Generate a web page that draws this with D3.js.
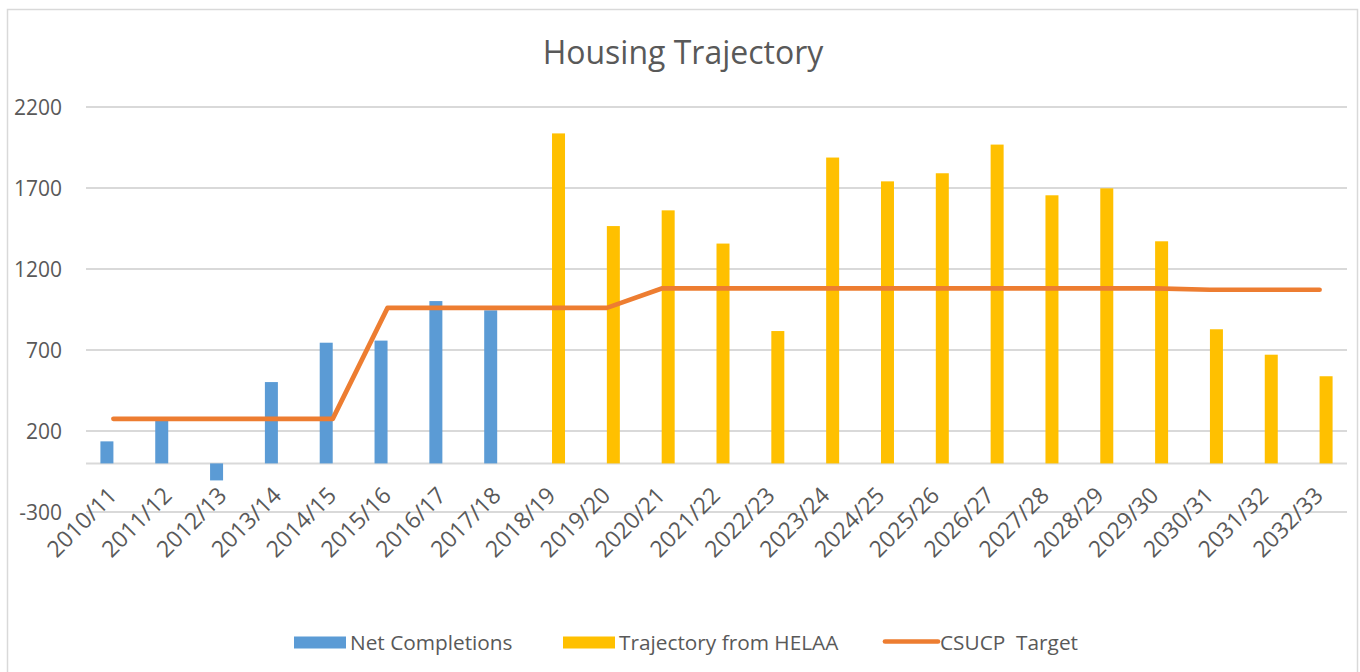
<!DOCTYPE html>
<html>
<head>
<meta charset="utf-8">
<script src="https://cdn.jsdelivr.net/npm/d3@7"></script>
<style>
  html, body { margin: 0; padding: 0; background: #fff; }
  svg { display: block; font-family: "Open Sans", sans-serif; }
</style>
</head>
<body>
<svg id="chart"></svg>
<script>
//--------------------------------------------
// DATA
//--------------------------------------------
const years = [
  "2010/11", "2011/12", "2012/13", "2013/14", "2014/15", "2015/16", "2016/17", "2017/18",
  "2018/19", "2019/20", "2020/21", "2021/22", "2022/23", "2023/24", "2024/25", "2025/26",
  "2026/27", "2027/28", "2028/29", "2029/30", "2030/31", "2031/32", "2032/33"
];
// null = no bar for that year
const netCompletions = [136, 265, -105, 502, 745, 758, 1002, 945,
  null, null, null, null, null, null, null, null, null, null, null, null, null, null, null];
const helaaTrajectory = [null, null, null, null, null, null, null, null,
  2037, 1465, 1562, 1357, 817, 1888, 1741, 1791, 1968, 1655, 1698, 1371, 828, 671, 538];
const csucpTarget = [275, 275, 275, 275, 275, 960, 960, 960, 960, 960,
  1080, 1080, 1080, 1080, 1080, 1080, 1080, 1080, 1080, 1080, 1072, 1072, 1072];
const yTicks = [-300, 200, 700, 1200, 1700, 2200];

const seriesNames = ["Net Completions", "Trajectory from HELAA", "CSUCP  Target"];

//--------------------------------------------
// CONFIG
//--------------------------------------------
const width = 1360, height = 672;
const textColor = "#595959", gridColor = "#d9d9d9";
const blue = "#5b9bd5", yellow = "#ffc000", orange = "#ed7d31";

const svg = d3.select("#chart")
  .attr("width", width)
  .attr("height", height)
  .attr("viewBox", [0, 0, width, height]);

// chart border
svg.append("rect")
  .attr("x", 7.5).attr("y", 9.5)
  .attr("width", 1350).attr("height", 680)
  .attr("fill", "#fff")
  .attr("stroke", gridColor)
  .attr("stroke-width", 1.5);

const x = d3.scaleBand().domain(years).range([86, 1347]);
const y = d3.scaleLinear().domain([-300, 2200]).range([512, 107]);

const barW = 13;
const inner = d3.scaleBand()
  .domain(["net", "helaa"])
  .range([x.bandwidth() / 2 - barW, x.bandwidth() / 2 + barW]);

// gridlines (+ the category axis at 0)
svg.append("g")
  .selectAll("line")
  .data(yTicks.concat([0]))
  .join("line")
    .attr("x1", 86).attr("x2", 1347)
    .attr("y1", d => y(d)).attr("y2", d => y(d))
    .attr("stroke", gridColor)
    .attr("stroke-width", 2);

// y tick labels
svg.append("g")
  .selectAll("text")
  .data(yTicks)
  .join("text")
    .attr("x", 62)
    .attr("y", d => y(d))
    .attr("dy", "0.36em")
    .attr("text-anchor", "end")
    .attr("fill", textColor)
    .style("font-size", "21px")
    .text(d => d);

// bars
function drawBars(values, key, color) {
  svg.append("g")
    .selectAll("rect")
    .data(years.map((yr, i) => ({ yr, v: values[i] })).filter(d => d.v != null))
    .join("rect")
      .attr("x", d => x(d.yr) + inner(key))
      .attr("width", inner.bandwidth())
      .attr("y", d => y(Math.max(0, d.v)))
      .attr("height", d => Math.abs(y(d.v) - y(0)))
      .attr("fill", color);
}
drawBars(netCompletions, "net", blue);
drawBars(helaaTrajectory, "helaa", yellow);

// target line
const line = d3.line()
  .x((d, i) => x(years[i]) + x.bandwidth() / 2)
  .y(d => y(d));

svg.append("path")
  .datum(csucpTarget)
  .attr("d", line)
  .attr("fill", "none")
  .attr("stroke", orange)
  .attr("stroke-width", 4.7)
  .attr("stroke-linecap", "round")
  .attr("stroke-linejoin", "round");

// x labels
svg.append("g")
  .selectAll("text")
  .data(years)
  .join("text")
    .attr("transform", d => `translate(${x(d) + x.bandwidth() / 2 + 5},497) rotate(-45)`)
    .attr("text-anchor", "end")
    .attr("fill", textColor)
    .style("font-size", "23px")
    .text(d => d);

// title
svg.append("text")
  .attr("x", 683).attr("y", 64)
  .attr("text-anchor", "middle")
  .attr("fill", textColor)
  .style("font-size", "32px")
  .text("Housing Trajectory");

//--------------------------------------------
// LEGEND
//--------------------------------------------
const legendItems = [
  { name: seriesNames[0], color: blue, type: "rect", x: 294 },
  { name: seriesNames[1], color: yellow, type: "rect", x: 563 },
  { name: seriesNames[2], color: orange, type: "line", x: 883 }
];
const lg = svg.append("g");
legendItems.forEach(it => {
  if (it.type === "rect") {
    lg.append("rect")
      .attr("x", it.x).attr("y", 636.5)
      .attr("width", 52).attr("height", 12)
      .attr("fill", it.color);
  } else {
    lg.append("line")
      .attr("x1", it.x + 2).attr("x2", it.x + 55)
      .attr("y1", 641.5).attr("y2", 641.5)
      .attr("stroke", it.color)
      .attr("stroke-width", 4.7)
      .attr("stroke-linecap", "round");
  }
  lg.append("text")
    .attr("x", it.x + (it.type === "rect" ? 56 : 57))
    .attr("y", 649.5)
    .attr("fill", textColor)
    .style("font-size", "20.8px")
    .style("white-space", "pre")
    .attr("xml:space", "preserve")
    .text(it.name);
});
</script>
</body>
</html>
